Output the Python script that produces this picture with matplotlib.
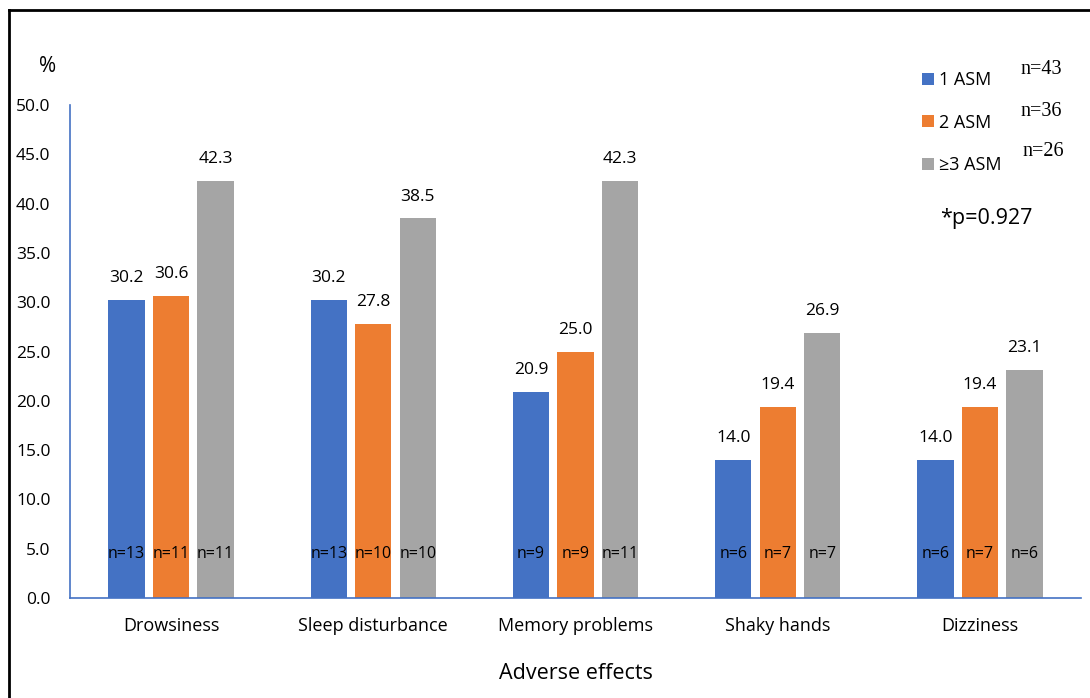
import numpy as np
import matplotlib
matplotlib.use("Agg")
import matplotlib.pyplot as plt
from matplotlib.lines import Line2D

categories = ["Drowsiness", "Sleep disturbance", "Memory problems", "Shaky hands", "Dizziness"]
groups = ["1 ASM", "2 ASM", "\u22653 ASM"]
group_n = ["n=43", "n=36", "n=26"]
pct_1asm = [30.2, 30.2, 20.9, 14.0, 14.0]
pct_2asm = [30.6, 27.8, 25.0, 19.4, 19.4]
pct_3asm = [42.3, 38.5, 42.3, 26.9, 23.1]
n_1asm = [13, 13, 9, 6, 6]
n_2asm = [11, 10, 9, 7, 7]
n_3asm = [11, 10, 11, 7, 6]
p_text = "*p=0.927"

colors = ["#4472C4", "#ED7D31", "#A5A5A5"]
plt.rcParams["font.family"] = ["Open Sans", "DejaVu Sans"]

fig = plt.figure(figsize=(10.9, 6.98), dpi=100)
ax = fig.add_axes([70 / 1090, 1 - 598 / 698, 1011 / 1090, 493 / 698])

x = np.arange(len(categories))
width = 0.18
offsets = [-0.22, 0.0, 0.22]
series = [pct_1asm, pct_2asm, pct_3asm]
counts = [n_1asm, n_2asm, n_3asm]

handles = []
for vals, ns, off, col, lab in zip(series, counts, offsets, colors, groups):
    bars = ax.bar(x + off, vals, width, color=col, label=lab)
    handles.append(bars)
    for b, v, n in zip(bars, vals, ns):
        ax.annotate(f"{v:.1f}", (b.get_x() + b.get_width() / 2, v),
                    xytext=(0, 10), textcoords="offset points",
                    ha="center", va="bottom", fontsize=12.5)
        ax.text(b.get_x() + b.get_width() / 2, 4.5, f"n={n}",
                ha="center", va="center", fontsize=11.5)

ax.set_xlim(-0.5, len(categories) - 0.5)
ax.set_ylim(0, 50)
ax.set_yticks(np.arange(0, 50.1, 5))
ax.set_yticklabels([f"{t:.1f}" for t in np.arange(0, 50.1, 5)], fontsize=12.5)
ax.set_xticks(x)
ax.set_xticklabels(categories, fontsize=13)
ax.tick_params(length=0)
ax.tick_params(axis="y", pad=14)
ax.tick_params(axis="x", pad=14)
for s in ["top", "right"]:
    ax.spines[s].set_visible(False)
for s in ["left", "bottom"]:
    ax.spines[s].set_color("#4472C4")
    ax.spines[s].set_linewidth(1.2)

ax.set_xlabel("Adverse effects", fontsize=15.5, labelpad=20)
fig.text(48 / 1090, 1 - 66 / 698, "%", fontsize=15, ha="center", va="center")

leg = ax.legend(handles=handles, loc="upper left",
                bbox_to_anchor=(915 / 1090, 1 - 64 / 698), bbox_transform=fig.transFigure,
                frameon=False, fontsize=13, handlelength=0.65, handleheight=0.65,
                handletextpad=0.3, labelspacing=1.35, borderaxespad=0)

for i, t in enumerate(group_n):
    fig.text([1020, 1020, 1022][i] / 1090, 1 - (70 + 41 * i) / 698, t,
             family="Liberation Serif", fontsize=14.5, ha="left", va="center")
fig.text(986 / 1090, 1 - 218 / 698, p_text, fontsize=15.5, ha="center", va="center")

# outer frame (left and top edges visible)
fig.add_artist(Line2D([9 / 1090, 9 / 1090], [0, 1 - 10 / 698], color="black", lw=2,
                      transform=fig.transFigure))
fig.add_artist(Line2D([9 / 1090, 1], [1 - 10 / 698, 1 - 10 / 698], color="black", lw=2,
                      transform=fig.transFigure))

fig.savefig("out.png", dpi=100)
